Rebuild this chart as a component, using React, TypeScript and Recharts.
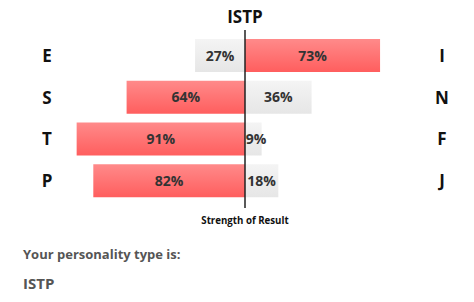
import React from 'react';
import { BarChart, Bar, XAxis, YAxis, Cell, LabelList, ReferenceLine } from 'recharts';

const leftLetters = ['E', 'S', 'T', 'P'];
const rightLetters = ['I', 'N', 'F', 'J'];
const leftValues = [27, 64, 91, 82];
const rightValues = [73, 36, 9, 18];
const typeName = 'ISTP';

const FONT = '"Open Sans", sans-serif';

const rows = leftLetters.map((l, i) => ({
  left: l,
  right: rightLetters[i],
  leftVal: -leftValues[i],
  rightVal: rightValues[i],
}));

const LetterTick = ({ x, y, payload, side }: any) => (
  <text
    x={side === 'left' ? 47 : 442}
    y={y}
    dy={6}
    textAnchor="middle"
    fontFamily={FONT}
    fontWeight={700}
    fontSize={17}
    fill="#111"
  >
    {payload.value}
  </text>
);

const PctLabel = (props: any) => {
  const { x, y, width, height, value } = props;
  const left = Math.min(x, x + width);
  const w = Math.abs(width);
  let cx = left + w / 2;
  const half = String(Math.abs(value)).length * 4 + 5;
  if (value > 0 && cx - half < 247) cx = 247 + half;
  return (
    <text
      x={cx}
      y={y + height / 2}
      dy={5}
      textAnchor="middle"
      fontFamily={FONT}
      fontWeight={700}
      fontSize={14}
      fill="#333"
    >
      {Math.abs(value)}%
    </text>
  );
};

const CenterLine = (props: any) => {
  const { x1, y1, x2, y2 } = props;
  return <line x1={x1} x2={x2} y1={Math.min(y1, y2) - 5} y2={Math.max(y1, y2) + 6} stroke="#222" strokeWidth={1.5} />;
};

export default function App() {
  return (
    <div style={{ position: 'absolute', left: 0, top: 0, width: 474, height: 302, background: '#fff', fontFamily: FONT }}>
      <div style={{ position: 'absolute', left: 0, width: 490, top: 5, textAlign: 'center', fontWeight: 700, fontSize: 17, color: '#111' }}>
        {typeName}
      </div>
      <BarChart
        width={474}
        height={230}
        data={rows}
        layout="vertical"
        stackOffset="sign"
        barSize={33}
        margin={{ top: 35, right: 0, bottom: 28, left: 0 }}
      >
        <defs>
          <linearGradient id="redGrad" x1="0" y1="0" x2="0" y2="1">
            <stop offset="0%" stopColor="#ff8a8a" />
            <stop offset="100%" stopColor="#ff5e5e" />
          </linearGradient>
          <linearGradient id="greyGrad" x1="0" y1="0" x2="0" y2="1">
            <stop offset="0%" stopColor="#f4f4f4" />
            <stop offset="100%" stopColor="#e6e6e6" />
          </linearGradient>
        </defs>
        <XAxis type="number" domain={[-100, 100]} hide />
        <YAxis
          yAxisId="l"
          type="category"
          dataKey="left"
          width={60}
          axisLine={false}
          tickLine={false}
          tick={<LetterTick side="left" />}
        />
        <YAxis
          yAxisId="r"
          type="category"
          dataKey="right"
          orientation="right"
          width={44}
          axisLine={false}
          tickLine={false}
          tick={<LetterTick side="right" />}
        />
        <Bar dataKey="leftVal" stackId="a" yAxisId="l" isAnimationActive={false}>
          {rows.map((r, i) => (
            <Cell key={`l-${i}`} fill={leftValues[i] > rightValues[i] ? 'url(#redGrad)' : 'url(#greyGrad)'} />
          ))}
          <LabelList dataKey="leftVal" content={<PctLabel />} />
        </Bar>
        <Bar dataKey="rightVal" stackId="a" yAxisId="l" isAnimationActive={false}>
          {rows.map((r, i) => (
            <Cell key={`r-${i}`} fill={rightValues[i] > leftValues[i] ? 'url(#redGrad)' : 'url(#greyGrad)'} />
          ))}
          <LabelList dataKey="rightVal" content={<PctLabel />} />
        </Bar>
        <ReferenceLine x={0} yAxisId="l" shape={<CenterLine />} />
      </BarChart>
      <div style={{ position: 'absolute', left: 0, width: 490, top: 214, textAlign: 'center', fontWeight: 700, fontSize: 9.7, color: '#111' }}>
        Strength of Result
      </div>
      <div style={{ position: 'absolute', left: 23, top: 245, fontWeight: 700, fontSize: 13, color: '#555' }}>
        Your personality type is:
      </div>
      <div style={{ position: 'absolute', left: 23, top: 273, fontWeight: 700, fontSize: 15, color: '#555' }}>
        {typeName}
      </div>
    </div>
  );
}
